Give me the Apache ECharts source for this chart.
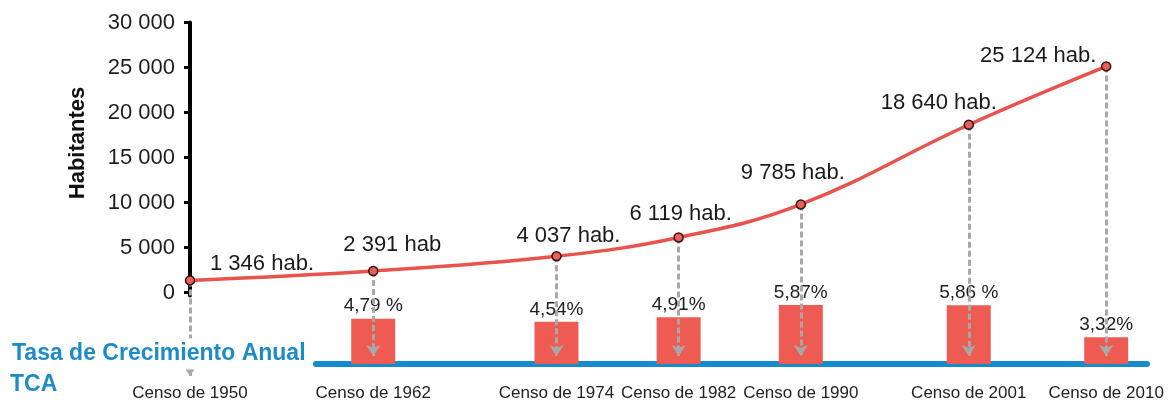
<!DOCTYPE html>
<html><head><meta charset="utf-8">
<script src="https://cdn.jsdelivr.net/npm/echarts@6/dist/echarts.min.js"></script>
<style>html,body{margin:0;padding:0;background:#fff}#c{width:1174px;height:400px}</style>
</head><body><div id="c"></div>
<script>
// ---- data ----
const years = [1950, 1962, 1974, 1982, 1990, 2001, 2010];
const population = [1346, 2391, 4037, 6119, 9785, 18640, 25124];
const popLabels = ['1 346 hab.', '2 391 hab', '4 037 hab.', '6 119 hab.', '9 785 hab.', '18 640 hab.', '25 124 hab.'];
const tcaYears = [1962, 1974, 1982, 1990, 2001, 2010];
const tcaValues = [4.79, 4.54, 4.91, 5.87, 5.86, 3.32];
const tcaLabels = ['4,79 %', '4,54%', '4,91%', '5,87%', '5,86 %', '3,32%'];
const yTicks = [0, 5000, 10000, 15000, 20000, 25000, 30000];
const xLabelPrefix = 'Censo de ';
const yName = 'Habitantes';
const tcaTitle = 'Tasa de Crecimiento Anual';
const tcaShort = 'TCA';

// ---- layout ----
const FONT = '"Liberation Sans", Arial, sans-serif';
const X0 = 190, PX_PER_YEAR = 15.27;
const Y0 = 292.5, PX_PER_HAB = 9 / 1000;
const xMin = 1950, xMax = 2013;
const gridRight = 1174 - (X0 + (xMax - xMin) * PX_PER_YEAR);
const yearAt = px => xMin + (px - X0) / PX_PER_YEAR;
const habAt = py => (Y0 - py) / PX_PER_HAB;
const labelOffsets = [[72, 0], [19, -10], [12, -4], [2, -7], [-8, -15], [-30, -6], [-68, 6]];
const arrowTipPx = [381, 361, 361, 361, 361, 361, 361];

const fmtThousands = v => String(v).replace(/\B(?=(\d{3})+(?!\d))/g, ' ');

const chart = echarts.init(document.getElementById('c'), null, {renderer: 'canvas'});
const option = {
  animation: false,
  backgroundColor: '#fff',
  grid: [
    {left: X0, right: gridRight, top: 22.5, bottom: 400 - 382.5, outerBoundsMode: 'none', containLabel: false},
    {left: X0, right: gridRight, top: 22.5, bottom: 400 - Y0 - 3, outerBoundsMode: 'none', containLabel: false},
    {left: 316, right: 27, top: 263, bottom: 36, outerBoundsMode: 'none', containLabel: false}
  ],
  xAxis: [
    {type: 'value', gridIndex: 0, min: xMin, max: xMax,
     axisLine: {show: false}, axisTick: {show: false}, splitLine: {show: false},
     axisLabel: {customValues: years, formatter: v => xLabelPrefix + v, fontFamily: FONT, fontSize: 17, color: '#222', margin: 2}},
    {type: 'value', gridIndex: 1, min: xMin, max: xMax, show: false},
    {type: 'value', gridIndex: 2, min: yearAt(316), max: yearAt(1147),
     axisLine: {show: true, onZero: false, lineStyle: {color: '#138bcc', width: 6}},
     axisTick: {show: false}, axisLabel: {show: false}, splitLine: {show: false}}
  ],
  yAxis: [
    {type: 'value', gridIndex: 0, min: habAt(382.5), max: 30000, show: false},
    {type: 'value', gridIndex: 1, min: -3 / PX_PER_HAB, max: 30000,
     axisLine: {show: true, lineStyle: {color: '#000', width: 4}},
     axisTick: {show: true, length: 6, customValues: yTicks, lineStyle: {color: '#000', width: 3}},
     splitLine: {show: false},
     axisLabel: {customValues: yTicks, formatter: v => fmtThousands(v), fontFamily: FONT, fontSize: 22, color: '#1e1e1e', margin: 15}},
    {type: 'value', gridIndex: 2, min: 1.2, max: 9.2, show: false}
  ],
  graphic: [
    {type: 'text', x: 78, y: 143, rotation: Math.PI / 2, z: 10,
     style: {text: yName, font: 'bold 22px ' + FONT, fill: '#111', align: 'center', verticalAlign: 'middle'}},
    {type: 'text', x: 10, y: 354, z: 10,
     style: {text: tcaTitle, font: 'bold 23px ' + FONT, fill: '#1b8bc9', align: 'left', verticalAlign: 'middle',
             backgroundColor: '#fff', padding: [4, 2]}},
    {type: 'text', x: 10, y: 385, z: 10,
     style: {text: tcaShort, font: 'bold 23px ' + FONT, fill: '#1b8bc9', align: 'left', verticalAlign: 'middle'}}
  ],
  series: [
    {
      type: 'bar', xAxisIndex: 2, yAxisIndex: 2, z: 1, barWidth: 44, clip: true,
      data: tcaYears.map((y, i) => [y, tcaValues[i]]),
      itemStyle: {color: '#ee5b53'},
      label: {show: true, position: 'top', distance: 3, fontFamily: FONT, fontSize: 19, color: '#1e1e1e',
              formatter: p => tcaLabels[p.dataIndex]},
      silent: true
    },
    {
      type: 'line', xAxisIndex: 0, yAxisIndex: 0, z: 3, smooth: 0.4, clip: false,
      data: years.map((y, i) => ({
        value: [y, population[i]],
        label: {offset: labelOffsets[i]}
      })),
      lineStyle: {color: '#e9534d', width: 3.5},
      symbol: 'circle', symbolSize: 9,
      itemStyle: {color: '#e8605a', borderColor: '#3a1212', borderWidth: 1.5},
      label: {show: true, position: 'top', distance: 0, fontFamily: FONT, fontSize: 22, color: '#1a1a1a',
              formatter: p => popLabels[p.dataIndex]},
      silent: true,
      markLine: {
        silent: true, z: 2, animation: false,
        symbol: ['none', 'arrow'], symbolSize: 11,
        label: {show: false},
        lineStyle: {color: '#a8a8a8', type: [6, 3], width: 3},
        emphasis: {disabled: true},
        data: years.map((y, i) => [
          {coord: [y, population[i]]},
          {coord: [y, habAt(arrowTipPx[i] - 5)]}
        ])
      }
    }
  ]
};
chart.setOption(option);
</script>
</body></html>
